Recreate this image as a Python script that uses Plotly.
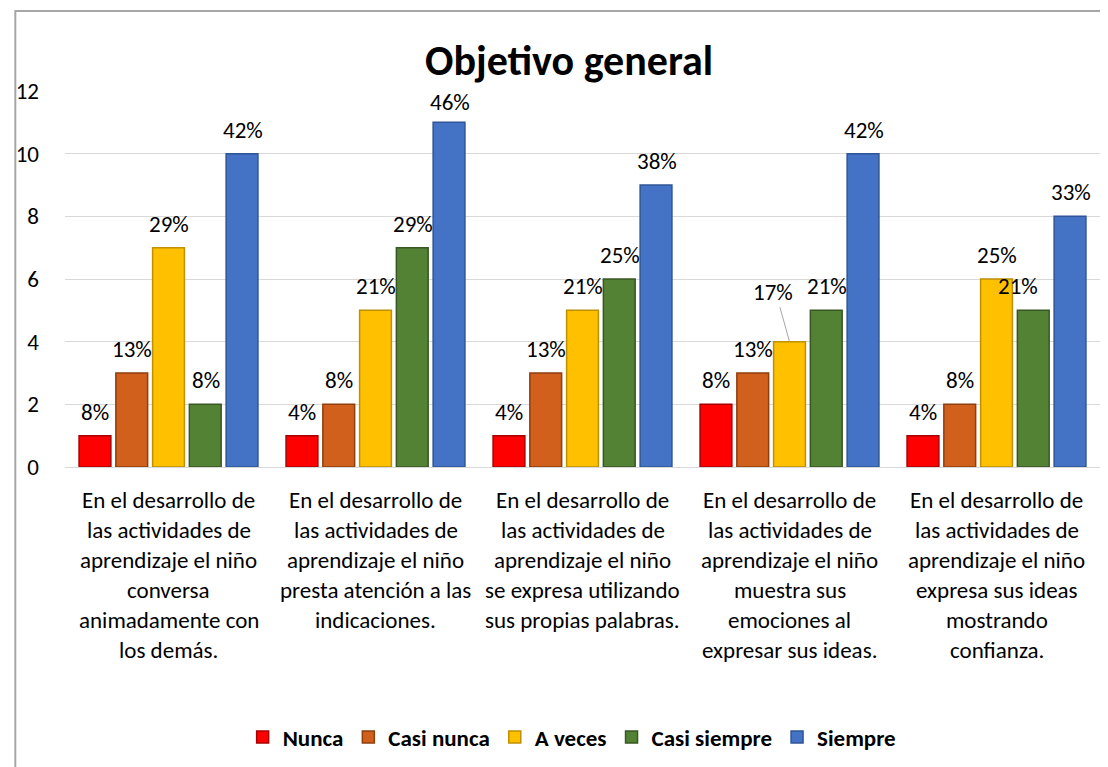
import plotly.graph_objects as go

# ---- data ----
category_lines = [
    ["En el desarrollo de", "las actividades de", "aprendizaje el niño", "conversa", "animadamente con", "los demás."],
    ["En el desarrollo de", "las actividades de", "aprendizaje el niño", "presta atención a las", "indicaciones."],
    ["En el desarrollo de", "las actividades de", "aprendizaje el niño", "se expresa utilizando", "sus propias palabras."],
    ["En el desarrollo de", "las actividades de", "aprendizaje el niño", "muestra sus", "emociones al", "expresar sus ideas."],
    ["En el desarrollo de", "las actividades de", "aprendizaje el niño", "expresa sus ideas", "mostrando", "confianza."],
]
categories = [" ".join(l) for l in category_lines]

series_names = ["Nunca", "Casi nunca", "A veces", "Casi siempre", "Siempre"]
nunca = [1, 1, 1, 2, 1]
casi_nunca = [3, 2, 3, 3, 2]
a_veces = [7, 5, 5, 4, 6]
casi_siempre = [2, 7, 6, 5, 5]
siempre = [10, 11, 9, 10, 8]

nunca_pct = ["8%", "4%", "4%", "8%", "4%"]
casi_nunca_pct = ["13%", "8%", "13%", "13%", "8%"]
a_veces_pct = ["29%", "21%", "21%", "17%", "25%"]
casi_siempre_pct = ["8%", "29%", "25%", "21%", "21%"]
siempre_pct = ["42%", "46%", "38%", "42%", "33%"]

y_ticks = [0, 2, 4, 6, 8, 10, 12]

# ---- style ----
values = [nunca, casi_nunca, a_veces, casi_siempre, siempre]
pcts = [nunca_pct, casi_nunca_pct, a_veces_pct, casi_siempre_pct, siempre_pct]
colors = ["#FF0000", "#D0601B", "#FFC000", "#548235", "#4472C4"]
edges = ["#A80000", "#8E3F0E", "#BF9000", "#385723", "#2F5597"]
FONT = "Carlito, Calibri, Lato, sans-serif"

fig = go.Figure()
for name, vals, c, e in zip(series_names, values, colors, edges):
    fig.add_trace(go.Bar(
        x=categories, y=vals, name="<b>" + name + "</b>",
        marker=dict(color=c, line=dict(color=e, width=1.5)),
    ))

annotations = []
slot = 37
# pixel adjustments for a few displaced labels
adjust = {(3, 2): (-17, 26), (4, 3): (-16, 0), (1, 4): (0, -4)}
for si, (vals, labs) in enumerate(zip(values, pcts)):
    for ci, (v, lab) in enumerate(zip(vals, labs)):
        dx, dy = adjust.get((ci, si), (0, 0))
        annotations.append(dict(
            x=categories[ci], y=v, xref="x", yref="y", text=lab, showarrow=False,
            xshift=(si - 2) * slot + dx, yshift=24 + dy, yanchor="middle",
            font=dict(family=FONT, size=23, color="#000000"),
        ))

# leader line for the displaced label
fig.add_annotation(
    x=categories[3], y=a_veces[3], xref="x", yref="y", ax=-10, ay=-36,
    axref="pixel", ayref="pixel", text="", showarrow=True, arrowhead=0,
    arrowwidth=1, arrowcolor="#A6A6A6",
)

for ci, lines in enumerate(category_lines):
    for li, line in enumerate(lines):
        annotations.append(dict(
            x=categories[ci], y=0, xref="x", yref="paper", text=line, showarrow=False,
            yanchor="middle", yshift=-33 - 30 * li,
            font=dict(family=FONT, size=23, color="#000000"),
        ))

for a in annotations:
    fig.add_annotation(**a)

fig.update_layout(
    width=1100, height=759,
    margin=dict(l=50, r=8, t=83, b=300),
    paper_bgcolor="white", plot_bgcolor="white",
    barmode="group", bargap=0.112, bargroupgap=0.135,
    title=dict(text="<b>Objetivo general</b>", x=0.51, xanchor="center", y=0.931, yanchor="middle",
               font=dict(family=FONT, size=42, color="#000000")),
    xaxis=dict(showticklabels=False, showgrid=False, zeroline=False, showline=False),
    yaxis=dict(range=[0, 12], tickvals=y_ticks, showgrid=True, gridcolor="#D9D9D9", gridwidth=1.3,
               zeroline=True, zerolinecolor="#D9D9D9", zerolinewidth=1.3, ticks="",
               ticklabelstandoff=25, tickfont=dict(family=FONT, size=23, color="#000000")),
    legend=dict(orientation="h", x=0.49, xanchor="center", y=-0.718, yanchor="middle",
                font=dict(family=FONT, size=23, color="#000000"),
                traceorder="normal"),
    showlegend=True,
    shapes=[dict(type="rect", xref="paper", yref="paper", x0=-0.048, x1=1.05, y0=-0.9, y1=1.2128,
                 line=dict(color="#A6A6A6", width=2), fillcolor="rgba(0,0,0,0)", layer="below")],
)

fig.write_html("out.html")
